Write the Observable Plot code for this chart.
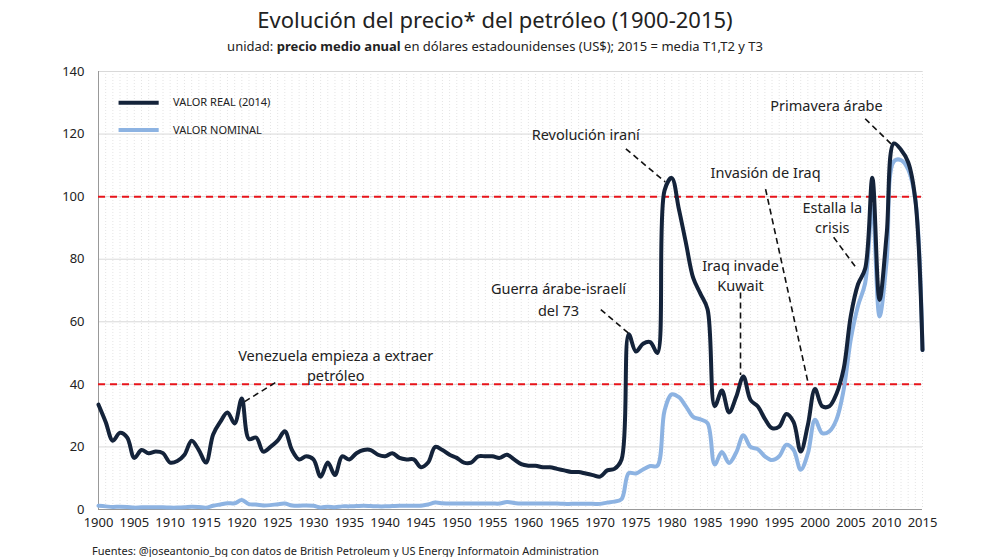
<!DOCTYPE html>
<html><head><meta charset="utf-8">
<script src="https://cdn.jsdelivr.net/npm/d3@7"></script>
<script src="https://cdn.jsdelivr.net/npm/@observablehq/plot@0.6"></script>
<style>
body{margin:0;background:#fff;font-family:"Noto Sans",sans-serif;width:990px;}
#t{text-align:center;font-size:22px;color:#222;height:34px;line-height:34px;padding-top:2px;}
#s{text-align:center;font-size:13px;color:#222;height:22px;line-height:20px;}
#f{font-size:11px;color:#222;margin-left:92px;margin-top:-2px;}
svg{display:block}
</style></head><body>
<div id="t">Evolución del precio* del petróleo (1900-2015)</div>
<div id="s">unidad: <b>precio medio anual</b> en dólares estadounidenses (US$); 2015 = media T1,T2 y T3</div>
<div id="chart"></div>
<div id="f">Fuentes: @joseantonio_bg con datos de British Petroleum y US Energy Informatoin Administration</div>
<script>
const years = d3.range(1900, 2016);
const realValues = [33.5,28,22,24.5,23,16.5,19,18,18.5,18,15,15.5,17.5,22,19,15,24,28,31,27.5,
35.5,22.5,23,18.5,20,22,25,19,16,17,16,10.5,15,11,17,16,18,19,19,17.5,
17,18,16.5,16,16,13.5,15,20,19,17.5,16.5,15,15,17,17,17,16.5,17.5,16,14.5,
14,14,13.5,13.5,13,12.5,12,12,11.5,11,10.5,12.5,13,16,56,50.5,53,53.5,50,102,
106,96,85,74,69,64,33,38,31,36,42.5,35,33,29,26,26.5,30.5,28,18.5,27,
38.5,33,33,37,45,62,72,77,106,67,88,117,115,111,99,51];
const nominalValues = [1.2,1,0.8,0.9,0.8,0.6,0.7,0.7,0.7,0.7,0.6,0.6,0.7,0.9,0.8,0.6,1.2,1.6,2,2,
3,1.7,1.6,1.3,1.4,1.7,1.9,1.3,1.2,1.3,1.2,0.65,0.9,0.7,1,1,1.1,1.2,1.1,1,
1,1.1,1.2,1.2,1.2,1.2,1.6,2.2,2,1.9,1.9,1.9,1.9,1.9,1.9,1.9,1.9,2.4,2.1,1.9,
1.9,1.9,1.9,1.9,1.9,1.8,1.8,1.8,1.8,1.8,1.8,2.2,2.5,3.3,11.6,11.5,12.8,13.9,14,31.6,
36.8,35.9,32.9,29.6,28.8,27.6,14.4,18.4,14.9,18.2,23.7,20,19.3,17,15.8,17,20.7,19.1,12.7,17.9,
28.7,24.4,25,28.8,38.3,54.5,65.1,72.4,97,61.7,79.5,111.3,111.7,108.7,99,51];
const refLines = [40, 100];
const annotations = [
 {x:1933.1,y:48.8,t:"Venezuela empieza a extraer"},{x:1933.1,y:42.4,t:"petróleo"},
 {x:1964.2,y:70.3,t:"Guerra árabe-israelí"},{x:1964.2,y:63.3,t:"del 73"},
 {x:1968,y:119.5,t:"Revolución iraní"},
 {x:1993.1,y:107.3,t:"Invasión de Iraq"},
 {x:1989.6,y:77.7,t:"Iraq invade"},{x:1989.6,y:71.3,t:"Kuwait"},
 {x:2002.4,y:96.3,t:"Estalla la"},{x:2002.4,y:89.9,t:"crisis"},
 {x:2001.6,y:128.8,t:"Primavera árabe"}];
const leaders = [
 {x1:1920.4,y1:34.5,x2:1925,y2:41},
 {x1:1970.1,y1:63.9,x2:1974.2,y2:55.9},
 {x1:1973.6,y1:115.3,x2:1979.1,y2:104.7},
 {x1:1993.1,y1:102.4,x2:1999.1,y2:39.8},
 {x1:1989.6,y1:69.4,x2:1989.6,y2:43},
 {x1:2002.6,y1:87,x2:2005.7,y2:77.4},
 {x1:2007,y1:124.9,x2:2011,y2:116}];
const legend = [{label:"VALOR REAL (2014)",color:"#14233a",y:130},{label:"VALOR NOMINAL",color:"#8db3e2",y:121.3}];

const real = years.map((y,i)=>({year:y,v:realValues[i]}));
const nom = years.map((y,i)=>({year:y,v:nominalValues[i]}));

const chart = Plot.plot({
 width:990,height:487,marginLeft:98,marginRight:68,marginTop:13,marginBottom:36,
 style:{fontFamily:"Noto Sans, sans-serif",fontSize:"13px",color:"#222"},
 x:{domain:[1900,2015],ticks:d3.range(1900,2016,5),tickFormat:d=>String(d),tickSize:0,label:null,tickPadding:8},
 y:{domain:[0,140],ticks:d3.range(0,141,20),tickSize:0,label:null,tickPadding:14},
 marks:[
  Plot.ruleX(years,{stroke:"#ddd",strokeDasharray:"1,2",strokeWidth:0.8}),
  Plot.ruleY(d3.range(20,141,20),{stroke:"#d9d9d9"}),
  Plot.ruleY([0],{stroke:"#999"}),
  Plot.ruleX([1900],{stroke:"#999"}),
  Plot.ruleY(refLines,{stroke:"#e8141b",strokeWidth:2,strokeDasharray:"7,5"}),
  Plot.line(nom,{x:"year",y:"v",stroke:"#8db3e2",strokeWidth:4,curve:"catmull-rom"}),
  Plot.line(real,{x:"year",y:"v",stroke:"#14233a",strokeWidth:4,curve:"catmull-rom"}),
  Plot.link(leaders,{x1:"x1",y1:"y1",x2:"x2",y2:"y2",stroke:"#111",strokeWidth:1.6,strokeDasharray:"6,4"}),
  Plot.text(annotations,{x:"x",y:"y",text:"t",fontSize:14.5,fill:"#222"}),
  Plot.link(legend,{x1:()=>1902.8,x2:()=>1908.4,y1:"y",y2:"y",stroke:"color",strokeWidth:4}),
  Plot.text(legend,{x:()=>1910.4,y:"y",text:"label",textAnchor:"start",fontSize:11,fill:"#222"})
 ]
});
document.getElementById("chart").append(chart);
</script></body></html>
